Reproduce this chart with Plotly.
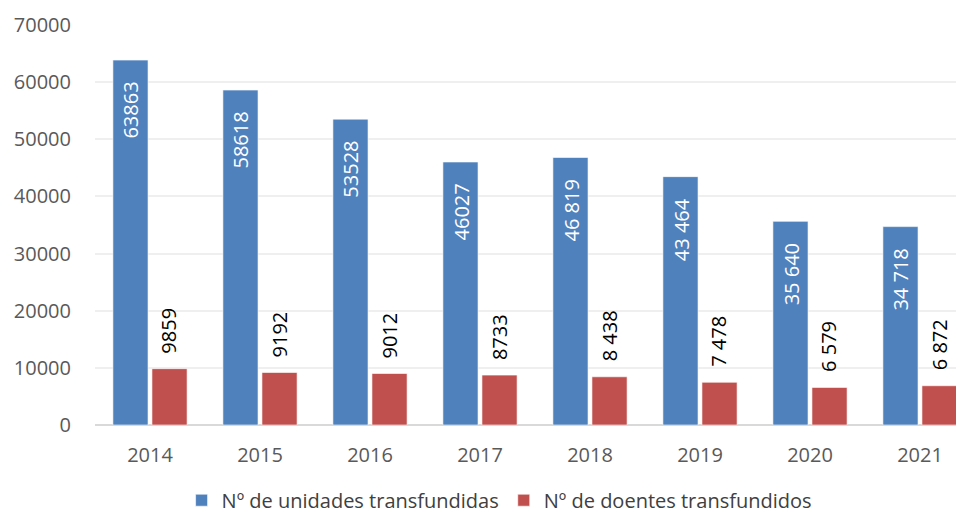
import plotly.graph_objects as go

years = ["2014", "2015", "2016", "2017", "2018", "2019", "2020", "2021"]
unidades = [63863, 58618, 53528, 46027, 46819, 43464, 35640, 34718]
doentes = [9859, 9192, 9012, 8733, 8438, 7478, 6579, 6872]
unidades_labels = ["63863", "58618", "53528", "46027", "46 819", "43 464", "35 640", "34 718"]
doentes_labels = ["9859", "9192", "9012", "8733", "8 438", "7 478", "6 579", "6 872"]
y_ticks = [0, 10000, 20000, 30000, 40000, 50000, 60000, 70000]

BLUE = "#4F81BD"
RED = "#C0504D"
FONT = "Open Sans"

fig = go.Figure()
fig.add_trace(go.Bar(
    x=years, y=unidades, name="Nº de unidades transfundidas",
    marker=dict(color=BLUE, line=dict(color="rgba(255,255,255,0.6)", width=1)),
))
fig.add_trace(go.Bar(
    x=years, y=doentes, name="Nº de doentes transfundidos",
    marker=dict(color=RED, line=dict(color="rgba(255,255,255,0.6)", width=1)),
))

annotations = []
for i, (yr, v, t) in enumerate(zip(years, unidades, unidades_labels)):
    annotations.append(dict(
        x=i, y=v, xref="x", yref="y", text=t, showarrow=False,
        textangle=-90, xanchor="center", yanchor="top", yshift=-20, xshift=-19,
        font=dict(family=FONT, size=20, color="white"),
    ))
for i, (yr, v, t) in enumerate(zip(years, doentes, doentes_labels)):
    annotations.append(dict(
        x=i, y=v, xref="x", yref="y", text=t, showarrow=False,
        textangle=-90, xanchor="center", yanchor="bottom", yshift=13, xshift=19,
        font=dict(family=FONT, size=20, color="black"),
    ))

fig.update_layout(
    width=956, height=505,
    margin=dict(l=87, r=0, t=17, b=88, autoexpand=False),
    paper_bgcolor="white", plot_bgcolor="white",
    barmode="group", bargap=0.29, bargroupgap=0.1,
    font=dict(family=FONT, color="#595959"),
    showlegend=True,
    legend=dict(
        orientation="h", x=0.465, xanchor="center", y=-0.188, yanchor="middle",
        font=dict(family=FONT, size=20, color="#404040"),
        itemwidth=30,
    ),
    annotations=annotations,
    xaxis=dict(
        type="category", range=[-0.5, 7.4],
        showgrid=False, showline=False, zeroline=False,
        tickfont=dict(family=FONT, size=20, color="#595959"),
        ticklabelstandoff=16,
    ),
    yaxis=dict(
        range=[0, 70000], tickvals=y_ticks, ticktext=[str(v) for v in y_ticks],
        showgrid=True, gridcolor="#efefef", gridwidth=1.5,
        zeroline=True, zerolinecolor="#d9d9d9", zerolinewidth=1.5,
        showline=False,
        tickfont=dict(family=FONT, size=20, color="#595959"),
        ticklabelstandoff=23,
    ),
)

fig.write_html("out.html")
